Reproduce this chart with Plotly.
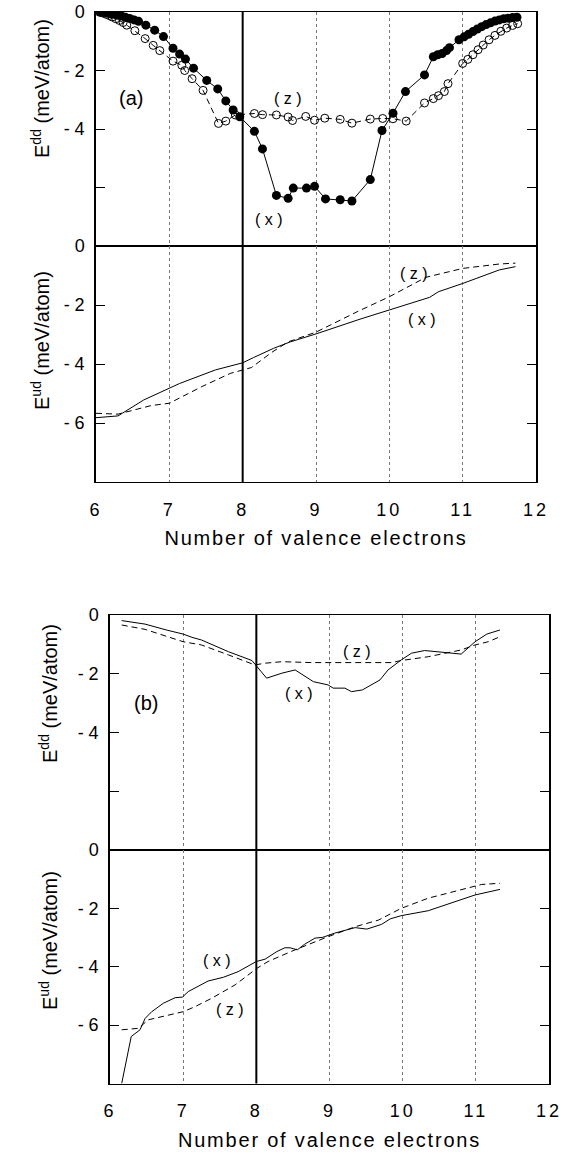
import plotly.graph_objects as go

# ---------------- data ----------------
# Panel (a), E^dd, filled circles (x)
a_dd_x_x = [6.05, 6.09, 6.13, 6.17, 6.21, 6.25, 6.30, 6.35, 6.40, 6.46, 6.52, 6.58, 6.68,
            6.80, 6.92, 7.05, 7.14, 7.22, 7.33, 7.51, 7.66, 7.77, 7.87, 7.96, 8.16, 8.27,
            8.46, 8.62, 8.69, 8.87, 8.98, 9.13, 9.33, 9.49, 9.74, 9.90, 10.05, 10.22, 10.48,
            10.60, 10.66, 10.72, 10.78, 10.82, 10.95, 11.02, 11.08, 11.14, 11.20, 11.26,
            11.32, 11.38, 11.44, 11.50, 11.56, 11.62, 11.68, 11.74]
a_dd_x_y = [0.0, -0.01, -0.02, -0.04, -0.06, -0.08, -0.11, -0.14, -0.18, -0.22, -0.27, -0.32, -0.45,
            -0.62, -0.84, -1.24, -1.44, -1.61, -1.92, -2.34, -2.63, -3.04, -3.35, -3.58, -4.08, -4.68,
            -6.27, -6.37, -6.02, -6.02, -5.96, -6.39, -6.42, -6.46, -5.73, -4.05, -3.46, -2.72, -2.15,
            -1.53, -1.46, -1.42, -1.32, -1.22, -0.95, -0.85, -0.76, -0.67, -0.58, -0.50,
            -0.43, -0.37, -0.31, -0.27, -0.23, -0.21, -0.19, -0.18]
# Panel (a), E^dd, open circles (z)
a_dd_z_x = [6.06, 6.10, 6.14, 6.18, 6.22, 6.27, 6.32, 6.37, 6.42, 6.53, 6.67, 6.78, 6.87, 7.05,
            7.17, 7.21, 7.31, 7.46, 7.67, 7.77, 7.90, 8.16, 8.27, 8.46, 8.62, 8.68, 8.86, 8.98,
            9.12, 9.33, 9.49, 9.74, 9.91, 10.05, 10.23, 10.48, 10.60, 10.67, 10.75, 10.80, 11.00,
            11.07, 11.14, 11.21, 11.28, 11.36, 11.44, 11.52, 11.60, 11.68, 11.75]
a_dd_z_y = [-0.01, -0.04, -0.08, -0.12, -0.17, -0.23, -0.29, -0.36, -0.45, -0.64, -0.91, -1.14, -1.32, -1.68,
            -1.82, -2.00, -2.28, -2.68, -3.81, -3.73, -3.52, -3.47, -3.51, -3.52, -3.59, -3.71, -3.57, -3.70,
            -3.63, -3.67, -3.80, -3.66, -3.64, -3.65, -3.73, -3.11, -2.96, -2.86, -2.72, -2.45, -1.76,
            -1.62, -1.46, -1.29, -1.13, -0.95, -0.80, -0.66, -0.55, -0.46, -0.40]
# Panel (a), E^ud
a_ud_x_x = [6.0, 6.3, 6.65, 7.14, 7.63, 8.0, 8.15, 8.42, 8.65, 9.0, 9.6, 10.0, 10.55, 10.67, 11.0, 11.5, 11.72]
a_ud_x_y = [-5.82, -5.76, -5.22, -4.66, -4.20, -3.96, -3.78, -3.47, -3.25, -2.98, -2.48, -2.17, -1.74, -1.55, -1.27, -0.81, -0.70]
a_ud_z_x = [6.0, 6.3, 6.75, 7.0, 7.44, 7.83, 8.12, 8.4, 8.62, 9.0, 9.56, 10.0, 10.5, 11.0, 11.5, 11.72]
a_ud_z_y = [-5.67, -5.70, -5.41, -5.33, -4.77, -4.32, -4.12, -3.60, -3.25, -2.92, -2.23, -1.72, -1.06, -0.76, -0.61, -0.58]

# Panel (b), E^dd
b_dd_x_x = [6.16, 6.48, 6.77, 7.0, 7.12, 7.25, 7.62, 7.94, 8.01, 8.14, 8.35, 8.53, 8.78, 8.98, 9.05,
            9.21, 9.30, 9.45, 9.69, 9.80, 9.98, 10.12, 10.30, 10.58, 10.80, 10.99, 11.15, 11.33]
b_dd_x_y = [-0.19, -0.31, -0.51, -0.65, -0.76, -0.85, -1.25, -1.55, -1.76, -2.15, -1.98, -1.87, -2.27, -2.38, -2.49,
            -2.49, -2.61, -2.55, -2.21, -1.87, -1.53, -1.30, -1.21, -1.28, -1.33, -0.91, -0.65, -0.51]
b_dd_z_x = [6.16, 6.48, 7.0, 7.25, 7.62, 7.98, 8.12, 8.35, 8.76, 9.07, 9.44, 9.85, 9.98, 10.35, 10.80, 10.99, 11.17, 11.33]
b_dd_z_y = [-0.34, -0.49, -0.91, -1.02, -1.36, -1.70, -1.64, -1.59, -1.62, -1.62, -1.62, -1.62, -1.55, -1.42, -1.19, -1.02, -0.91, -0.74]
# Panel (b), E^ud
b_ud_x_x = [6.16, 6.29, 6.41, 6.48, 6.57, 6.73, 6.89, 6.99, 7.07, 7.34, 7.55, 7.75, 8.0, 8.12, 8.28, 8.39,
            8.46, 8.56, 8.66, 8.80, 8.91, 9.07, 9.26, 9.35, 9.51, 9.71, 9.83, 9.98, 10.35, 10.99, 11.33]
b_ud_x_y = [-8.0, -6.39, -6.16, -5.77, -5.54, -5.25, -5.06, -5.04, -4.85, -4.49, -4.36, -4.17, -3.82, -3.74, -3.48, -3.35,
            -3.35, -3.42, -3.23, -3.02, -2.99, -2.85, -2.72, -2.66, -2.71, -2.55, -2.36, -2.25, -2.08, -1.54, -1.35]
b_ud_z_x = [6.16, 6.39, 6.52, 7.0, 7.16, 7.39, 7.71, 7.89, 8.01, 8.16, 8.53, 8.98, 9.35, 9.67, 9.98, 10.35, 10.99, 11.08, 11.33]
b_ud_z_y = [-6.16, -6.11, -5.82, -5.54, -5.37, -5.08, -4.62, -4.28, -4.05, -3.82, -3.42, -2.97, -2.63, -2.40, -2.00, -1.65, -1.26, -1.18, -1.14]

x_ticks = [6, 7, 8, 9, 10, 11, 12]
x_tick_text = ["6", "7", "8", "9", "10", "11", "12"]
y_ticks_top = [0, -2, -4]
y_text_top = ["0", "- 2", "- 4"]
y_minor_top = [-6]
y_ticks_bot = [0, -2, -4, -6]
y_text_bot = ["0", "- 2", "- 4", "- 6"]

# ---------------- layout geometry ----------------
W, H = 566, 1156
FONT = "Liberation Sans, Arial, Helvetica, sans-serif"

def py(p):
    return 1 - p / H

panels = {
    # name: (x0px, x1px, y_top_px, y_bottom_px)
    "1": (96, 536, 12, 246),
    "2": (96, 536, 246, 482),
    "3": (110, 549, 615, 850),
    "4": (110, 549, 850, 1083.5),
}

fig = go.Figure()

line_solid = dict(color="black", width=1)
line_dash = dict(color="black", width=1, dash="6px,4px")

def add(xs, ys, k, dash=False, marker=None):
    tr = go.Scatter(x=xs, y=ys, xaxis="x" + ("" if k == "1" else k), yaxis="y" + ("" if k == "1" else k),
                    mode="lines" if marker is None else "lines+markers",
                    line=line_dash if dash else line_solid, showlegend=False, hoverinfo="skip")
    if marker is not None:
        tr.marker = marker
    fig.add_trace(tr)

add(a_dd_z_x, a_dd_z_y, "1", dash=True,
    marker=dict(symbol="circle-open", size=8, color="black", line=dict(width=1, color="black")))
add(a_dd_x_x, a_dd_x_y, "1", dash=False,
    marker=dict(symbol="circle", size=9, color="black"))
add(a_ud_x_x, a_ud_x_y, "2")
add(a_ud_z_x, a_ud_z_y, "2", dash=True)
add(b_dd_x_x, b_dd_x_y, "3")
add(b_dd_z_x, b_dd_z_y, "3", dash=True)
add(b_ud_x_x, b_ud_x_y, "4")
add(b_ud_z_x, b_ud_z_y, "4", dash=True)

layout = dict(width=W, height=H, margin=dict(l=0, r=0, t=0, b=0),
              paper_bgcolor="white", plot_bgcolor="white", showlegend=False,
              font=dict(family=FONT, size=17, color="black"))

for k, (x0, x1, yt, yb) in panels.items():
    xs = "xaxis" + ("" if k == "1" else k)
    ys = "yaxis" + ("" if k == "1" else k)
    bottom = k in ("2", "4")
    top = k in ("1", "3")
    layout[xs] = dict(domain=[x0 / W, x1 / W], range=[6, 12], anchor="y" + ("" if k == "1" else k),
                      showline=True, mirror=True, linecolor="black", linewidth=1,
                      showgrid=True, gridcolor="#777777", gridwidth=1, griddash="dot",
                      tickvals=x_ticks, ticktext=x_tick_text, ticks="",
                      showticklabels=bottom, zeroline=False, automargin=False,
                      tickfont=dict(size=18), ticklabelstandoff=11)
    if bottom:
        layout[xs]["title"] = dict(text="Number of valence electrons", font=dict(size=20), standoff=12)
    layout[ys] = dict(domain=[py(yb), py(yt)], range=[-8, 0], anchor="x" + ("" if k == "1" else k),
                      showline=True, mirror="ticks", linecolor="black", linewidth=1.5,
                      showgrid=False, zeroline=False, ticks="inside", ticklen=9, tickwidth=1,
                      tickcolor="black",
                      tickvals=y_ticks_top if top else y_ticks_bot,
                      ticktext=y_text_top if top else y_text_bot,
                      tickfont=dict(size=18), ticklabelstandoff=6, automargin=False)
    if top:
        layout[ys]["minor"] = dict(tickvals=y_minor_top, ticks="inside", ticklen=9, tickwidth=1,
                                   tickcolor="black", showgrid=False)

fig.update_layout(**layout)

# thick vertical line at 8 electrons in every subplot
for k in panels:
    xr = "x" + ("" if k == "1" else k)
    yr = "y" + ("" if k == "1" else k)
    fig.add_shape(type="line", xref=xr, yref=yr + " domain", x0=8, x1=8, y0=0, y1=1,
                  line=dict(color="black", width=2))

ann = []
def lab(text, x, y, k, size=17):
    ann.append(dict(text=text, x=x, y=y, xref="x" + ("" if k == "1" else k),
                    yref="y" + ("" if k == "1" else k), showarrow=False,
                    font=dict(size=size, family=FONT), xanchor="center", yanchor="middle"))

lab("(a)", 6.48, -2.94, "1", 20)
lab("( z )", 8.62, -2.97, "1", 16)
lab("( x )", 8.36, -7.1, "1", 16)
lab("( z )", 10.33, -0.93, "2", 16)
lab("( x )", 10.45, -2.48, "2", 16)
lab("(b)", 6.49, -3.0, "3", 20)
lab("( z )", 9.37, -1.25, "3", 16)
lab("( x )", 8.58, -2.66, "3", 16)
lab("( x )", 7.46, -3.77, "4", 16)
lab("( z )", 7.64, -5.48, "4", 16)

def ytitle(sup, xpx, ypx):
    ann.append(dict(text="E<sup>" + sup + "</sup> (meV/atom)", x=xpx / W, y=py(ypx), xref="paper",
                    yref="paper", showarrow=False, textangle=-90, xanchor="center", yanchor="middle",
                    font=dict(size=20, family=FONT)))

ytitle("dd", 40, 89)
ytitle("ud", 40, 341)
ytitle("dd", 48, 694)
ytitle("ud", 48, 941)

fig.update_layout(annotations=ann)

# widen letter spacing of the x-axis texts like the typeset original
post = """
var gd = document.getElementsByClassName('plotly-graph-div')[0];
function spread(){
  gd.querySelectorAll('.g-xtitle text, .g-x2title text, .g-x4title text').forEach(function(e){e.style.letterSpacing='1.8px';});
  gd.querySelectorAll('g.xtick text, g.x2tick text, g.x4tick text').forEach(function(e){e.style.letterSpacing='3px';});
}
spread();
"""
fig.write_html("out.html", post_script=post)
